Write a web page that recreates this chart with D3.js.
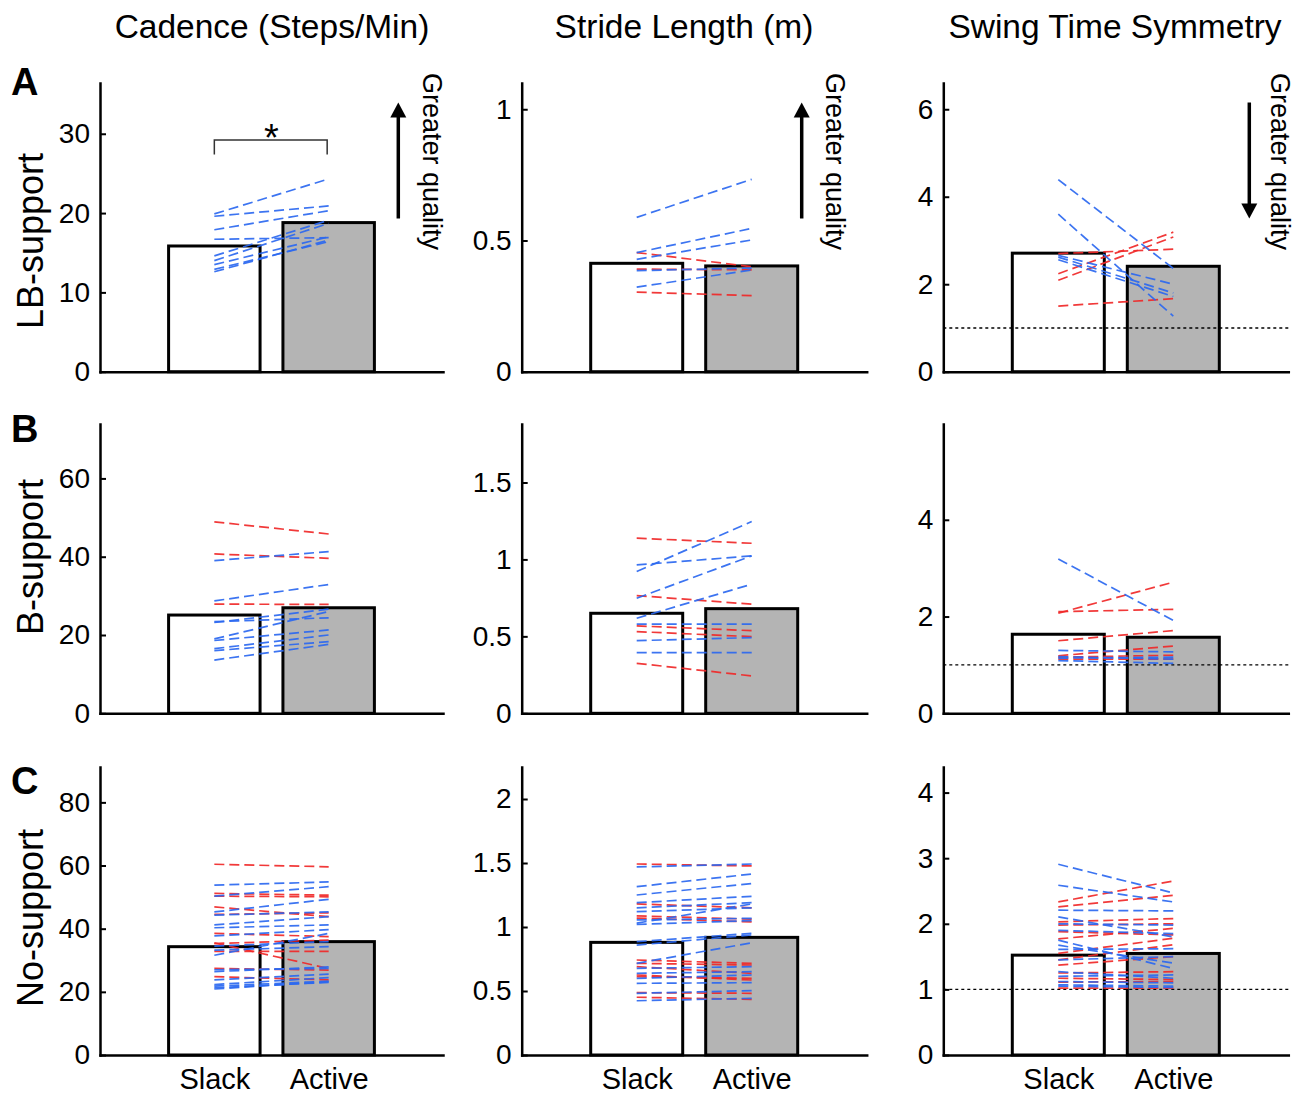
<!DOCTYPE html>
<html><head><meta charset="utf-8">
<script src="https://cdn.jsdelivr.net/npm/d3@7"></script>
<style>
body{margin:0;background:#fff;}
svg{display:block;font-family:"Liberation Sans",Arial,Helvetica,sans-serif;}
</style></head><body>
<svg id="c" width="1307" height="1096"></svg>
<script>
// ---------- DATA ----------
const columns = ["Cadence (Steps/Min)", "Stride Length (m)", "Swing Time Symmetry"];
const rows = ["LB-support", "B-support", "No-support"];
const panelLetters = ["A", "B", "C"];
const conditions = ["Slack", "Active"];

// bar heights [row][col]
const barSlack  = [[15.85, 0.413, 2.71], [25.1, 0.650, 1.634], [34.3, 0.880, 1.522]];
const barActive = [[18.8, 0.403, 2.41], [26.96, 0.680, 1.572], [35.9, 0.919, 1.548]];

// axis limits and tick values [row][col]
const yMax = [[36.4, 1.1, 6.6], [73.9, 1.88, 5.98], [91.2, 2.25, 4.39]];
const yTicks = [
  [[0, 10, 20, 30], [0, 0.5, 1], [0, 2, 4, 6]],
  [[0, 20, 40, 60], [0, 0.5, 1, 1.5], [0, 2, 4]],
  [[0, 20, 40, 60, 80], [0, 0.5, 1, 1.5, 2], [0, 1, 2, 3, 4]]
];

// individual subjects: [slack, active]
const cadenceLB_blue = [[19.9,24.3],[19.6,20.9],[17.9,20.3],[16.7,16.9],[14.6,19.1],[14.0,18.7],[13.5,17.0],[12.9,16.4],[12.6,16.6]];
const cadenceLB_red = [];
const strideLB_blue = [[0.588,0.733],[0.454,0.546],[0.428,0.502],[0.385,0.395],[0.322,0.388]];
const strideLB_red = [[0.454,0.400],[0.391,0.388],[0.303,0.290]];
const swingLB_blue = [[4.39,2.36],[3.60,1.27],[2.66,2.00],[2.62,1.80],[2.56,1.72]];
const swingLB_red = [[2.70,2.80],[2.24,3.19],[2.09,3.08],[1.50,1.67]];

const cadenceB_blue = [[39.0,41.3],[28.7,32.9],[23.2,26.6],[23.4,24.4],[19.0,26.0],[18.6,21.3],[16.5,20.0],[16.0,18.3],[13.6,17.6]];
const cadenceB_red = [[48.9,45.8],[40.7,39.6],[27.9,27.8]];
const strideB_blue = [[0.921,1.246],[0.964,1.023],[0.748,1.023],[0.618,0.839],[0.579,0.580],[0.472,0.492],[0.394,0.394]];
const strideB_red = [[1.138,1.105],[0.765,0.709],[0.568,0.537],[0.531,0.498],[0.325,0.243]];
const swingB_blue = [[3.19,1.92],[1.30,1.27],[1.17,1.12],[1.09,1.03],[1.14,1.16]];
const swingB_red = [[2.07,2.71],[2.10,2.15],[1.50,1.71],[1.19,1.39],[1.12,1.12],[1.16,1.20]];

const cadenceN_blue = [[53.8,54.8],[50.3,53.3],[45.3,49.3],[44.3,45.3],[41.2,43.8],[40.3,41.2],[37.7,39.7],[34.5,35.9],[33.2,34.3],[31.6,38.5],[27.0,27.4],[26.4,27.9],[23.8,25.6],[22.3,24.5],[21.8,23.4],[21.3,23.0],[20.9,23.2]];
const cadenceN_red = [[60.4,59.6],[51.2,50.6],[50.3,50.1],[46.9,43.8],[44.5,45.0],[38.5,37.5],[35.5,27.4],[35.3,36.4],[32.8,32.8],[27.4,26.9],[24.8,23.8]];
const strideN_blue = [[1.469,1.492],[1.315,1.414],[1.25,1.34],[1.19,1.24],[1.15,1.19],[1.12,1.15],[1.055,1.068],[1.03,1.18],[1.02,1.05],[0.885,0.951],[0.859,0.938],[0.716,0.877],[0.677,0.690],[0.638,0.651],[0.599,0.625],[0.560,0.565],[0.482,0.503],[0.424,0.443]];
const strideN_red = [[1.492,1.477],[1.18,1.15],[1.087,1.061],[1.07,1.04],[0.742,0.716],[0.716,0.703],[0.690,0.638],[0.625,0.586],[0.612,0.599],[0.487,0.482],[0.451,0.435]];
const swingN_blue = [[2.907,2.470],[2.588,2.333],[2.207,2.197],[2.106,1.80],[2.0,1.98],[1.90,1.85],[1.750,1.319],[1.674,1.40],[1.61,1.62],[1.45,1.50],[1.27,1.17],[1.20,1.22],[1.12,1.10],[1.07,1.05],[1.05,1.03]];
const swingN_red = [[2.333,2.653],[2.258,2.435],[2.03,2.08],[1.98,2.00],[1.88,1.83],[1.77,1.93],[1.55,1.78],[1.45,1.68],[1.37,1.50],[1.25,1.27],[1.17,1.15],[1.11,1.12],[1.02,1.02]];

// ---------- LAYOUT ----------
const subjects = [
  [{blue: cadenceLB_blue, red: cadenceLB_red}, {blue: strideLB_blue, red: strideLB_red}, {blue: swingLB_blue, red: swingLB_red}],
  [{blue: cadenceB_blue, red: cadenceB_red}, {blue: strideB_blue, red: strideB_red}, {blue: swingB_blue, red: swingB_red}],
  [{blue: cadenceN_blue, red: cadenceN_red}, {blue: strideN_blue, red: strideN_red}, {blue: swingN_blue, red: swingN_red}]
];
const colX = [[100, 443], [521.7, 866.7], [943.3, 1288.3]];
const rowY = [[83, 371.7], [424, 713.3], [767, 1055]];
const BLUE = "#2b68f0", RED = "#f02828";
const FONT = '"Liberation Sans",Arial,sans-serif';

const svg = d3.select("#c");
svg.append("rect").attr("width", 1307).attr("height", 1096).attr("fill", "#fff");

for (let r = 0; r < 3; r++) {
  for (let c = 0; c < 3; c++) {
    const x = d3.scaleLinear().domain([0, 3]).range(colX[c]);
    const y = d3.scaleLinear().domain([0, yMax[r][c]]).range([rowY[r][1], rowY[r][0]]);
    const g = svg.append("g");
    const vals = [barSlack[r][c], barActive[r][c]];
    g.selectAll("rect.bar").data(vals).join("rect")
      .attr("class", "bar")
      .attr("x", (d, i) => x(i + 1 - 0.4))
      .attr("width", x(1.4) - x(0.6))
      .attr("y", d => y(d))
      .attr("height", d => y(0) - y(d))
      .attr("fill", (d, i) => i === 0 ? "#ffffff" : "#b4b4b4")
      .attr("stroke", "#000").attr("stroke-width", 3);

    if (c === 2) {
      g.append("line")
        .attr("x1", x(0)).attr("x2", x(3))
        .attr("y1", y(1)).attr("y2", y(1))
        .attr("stroke", "#000").attr("stroke-width", 1.4)
        .attr("stroke-dasharray", "3,3");
    }

    const drawSet = (arr, col) => {
      g.selectAll(null).data(arr).join("line")
        .attr("x1", x(1)).attr("x2", x(2))
        .attr("y1", d => y(d[0])).attr("y2", d => y(d[1]))
        .attr("stroke", col).attr("stroke-width", 1.7)
        .attr("stroke-dasharray", "10,5").attr("stroke-opacity", 0.92);
    };
    drawSet(subjects[r][c].red, RED);
    drawSet(subjects[r][c].blue, BLUE);

    // y axis
    const ya = g.append("g").attr("transform", `translate(${colX[c][0]},0)`)
      .call(d3.axisLeft(y).tickValues(yTicks[r][c]).tickSize(-6).tickSizeOuter(0)
        .tickPadding(10).tickFormat(d3.format("~g")));
    ya.select(".domain").attr("stroke-width", 2.5).attr("stroke-linecap", "square");
    ya.selectAll(".tick line").attr("stroke-width", 2);
    ya.selectAll(".tick text").attr("font-size", 28).attr("fill", "#000").attr("font-family", FONT);

    // x axis
    const xa = g.append("g").attr("transform", `translate(0,${rowY[r][1]})`)
      .call(d3.axisBottom(x).tickValues([1, 2]).tickSize(0).tickSizeOuter(0)
        .tickPadding(13).tickFormat((d, i) => r === 2 ? conditions[i] : ""));
    xa.select(".domain").attr("stroke-width", 2.5).attr("stroke-linecap", "square");
    xa.selectAll(".tick text").attr("font-size", 29).attr("fill", "#000").attr("font-family", FONT);

    // significance bracket
    if (r === 0 && c === 0) {
      g.append("path")
        .attr("d", `M${x(1)},${y(27.4)}V${y(29.2)}H${x(2) - 1.5}V${y(27.4)}`)
        .attr("fill", "none").attr("stroke", "#333").attr("stroke-width", 1.5);
      g.append("text").attr("x", x(1.5)).attr("y", y(29.2) + 11)
        .attr("text-anchor", "middle").attr("font-size", 38).text("*");
    }
  }
}

// column titles
const titleX = [272, 684, 1115];
svg.selectAll("text.ctitle").data(columns).join("text").attr("class", "ctitle")
  .attr("x", (d, i) => titleX[i]).attr("y", 38)
  .attr("text-anchor", "middle").attr("font-size", 33.5).text(d => d);

// row labels
const rowLabelY = [241, 557, 918];
svg.selectAll("text.rlabel").data(rows).join("text").attr("class", "rlabel")
  .attr("transform", (d, i) => `translate(43,${rowLabelY[i]}) rotate(-90)`)
  .attr("text-anchor", "middle").attr("font-size", 36).text(d => d);

// panel letters
const letterY = [95, 442, 794];
svg.selectAll("text.plet").data(panelLetters).join("text").attr("class", "plet")
  .attr("x", 11).attr("y", (d, i) => letterY[i])
  .attr("font-size", 38).attr("font-weight", "bold").text(d => d);

// "Greater quality" annotations
const annX = [423, 826, 1271];
const arrowX = [398.3, 801.7, 1249.3];
const arrowUp = [true, true, false];
svg.selectAll("text.ann").data(annX).join("text").attr("class", "ann")
  .attr("transform", d => `translate(${d},73) rotate(90)`)
  .attr("font-size", 27).text("Greater quality");
arrowX.forEach((ax, i) => {
  const top = 102.5, bot = 218.5, hl = 15, hw = 8;
  if (arrowUp[i]) {
    svg.append("line").attr("x1", ax).attr("x2", ax).attr("y1", bot).attr("y2", top + hl - 1)
      .attr("stroke", "#000").attr("stroke-width", 3.5);
    svg.append("path").attr("d", `M${ax},${top}L${ax - hw},${top + hl}L${ax + hw},${top + hl}Z`).attr("fill", "#000");
  } else {
    svg.append("line").attr("x1", ax).attr("x2", ax).attr("y1", top).attr("y2", bot - hl + 1)
      .attr("stroke", "#000").attr("stroke-width", 3.5);
    svg.append("path").attr("d", `M${ax},${bot}L${ax - hw},${bot - hl}L${ax + hw},${bot - hl}Z`).attr("fill", "#000");
  }
});
</script>
</body></html>
